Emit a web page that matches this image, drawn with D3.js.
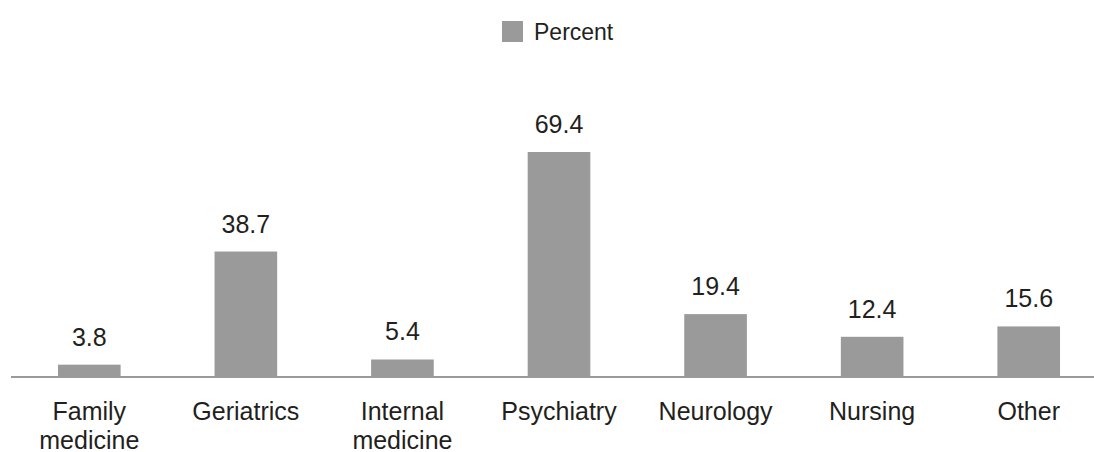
<!DOCTYPE html>
<html>
<head>
<meta charset="utf-8">
<script src="https://cdn.jsdelivr.net/npm/d3@7"></script>
<style>
  html, body { margin: 0; padding: 0; background: #fff; }
  svg { display: block; }
  text { font-family: "Liberation Sans", Arial, sans-serif; fill: #231f20; }
</style>
</head>
<body>
<svg id="chart" width="1094" height="452"></svg>
<script>
const categories = [["Family", "medicine"], ["Geriatrics"], ["Internal", "medicine"], ["Psychiatry"], ["Neurology"], ["Nursing"], ["Other"]];
const values = [3.8, 38.7, 5.4, 69.4, 19.4, 12.4, 15.6];
const valueLabels = ["3.8", "38.7", "5.4", "69.4", "19.4", "12.4", "15.6"];
const seriesName = "Percent";

const svg = d3.select("#chart");
const baseY = 377;
const barColor = "#9a9a9a";
const fs = 25;

const keys = categories.map(c => c.join(" "));
const x = d3.scaleBand().domain(keys).range([11, 1107]).paddingInner(0.6).paddingOuter(0.3);
const y = d3.scaleLinear().domain([0, 69.4]).range([baseY, 152]);

// bars
svg.append("g").selectAll("rect").data(values).join("rect")
  .attr("x", (d, i) => x(keys[i]))
  .attr("width", x.bandwidth())
  .attr("y", d => y(d))
  .attr("height", d => baseY - y(d))
  .attr("fill", barColor);

// axis line
svg.append("line").attr("x1", 11).attr("x2", 1094).attr("y1", baseY).attr("y2", baseY)
  .attr("stroke", "#9a9a9a").attr("stroke-width", 2);

// value labels
svg.append("g").selectAll("text").data(values).join("text")
  .attr("x", (d, i) => x(keys[i]) + x.bandwidth() / 2)
  .attr("y", d => y(d) - 19)
  .attr("text-anchor", "middle")
  .attr("font-size", fs)
  .text((d, i) => valueLabels[i]);

// category labels
const cat = svg.append("g").selectAll("text").data(categories).join("text")
  .attr("x", (d, i) => x(keys[i]) + x.bandwidth() / 2)
  .attr("y", 420)
  .attr("text-anchor", "middle")
  .attr("font-size", fs);
cat.each(function(d, i) {
  const t = d3.select(this);
  const cx = x(keys[i]) + x.bandwidth() / 2;
  d.forEach((line, j) => {
    t.append("tspan").attr("x", cx).attr("dy", j === 0 ? 0 : 28.5).text(line);
  });
});

// legend
const lg = svg.append("g");
lg.append("rect").attr("x", 502).attr("y", 21).attr("width", 21).attr("height", 21).attr("fill", barColor);
lg.append("text").attr("x", 534).attr("y", 40).attr("font-size", 23).text(seriesName);
</script>
</body>
</html>
